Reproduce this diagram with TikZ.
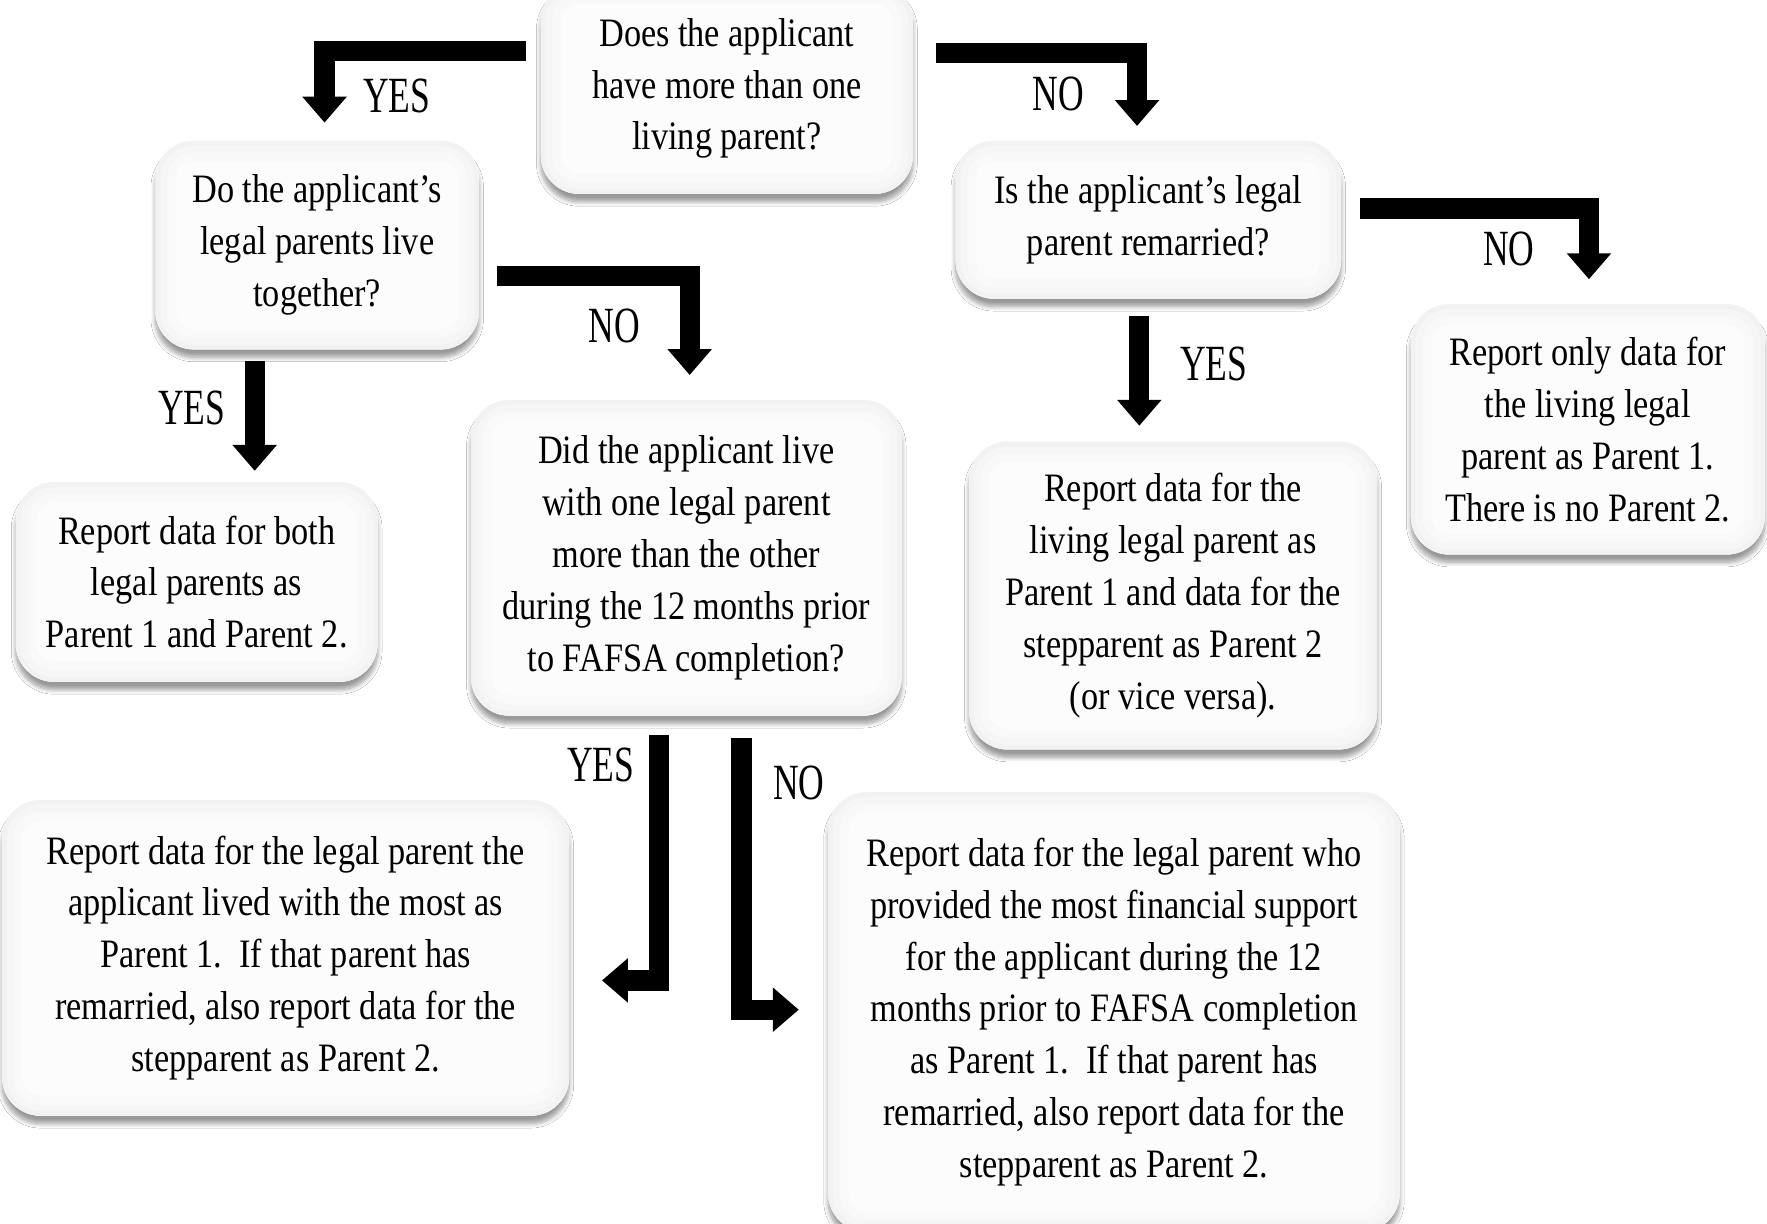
\documentclass[tikz,border=0pt]{standalone}
\usepackage{fontspec}
\setmainfont[FakeStretch=0.85]{Liberation Serif}
\newfontfamily\lblfont[FakeStretch=0.7]{Liberation Serif}
\usetikzlibrary{arrows.meta,calc,shadows.blur}
\begin{document}
\begin{tikzpicture}[x=1pt,y=-1pt,
  box/.style={rectangle, rounded corners=34pt, fill=gray!2, draw=none,
    blur shadow={shadow xshift=0pt, shadow yshift=-7pt, shadow blur steps=8,
      shadow blur radius=4pt, shadow opacity=40},
    path picture={
      \draw[rounded corners=34pt, gray!5, line width=36pt]
        (path picture bounding box.south west) rectangle (path picture bounding box.north east);
      \draw[rounded corners=34pt, gray!7, line width=20pt]
        (path picture bounding box.south west) rectangle (path picture bounding box.north east);
      \draw[rounded corners=34pt, gray!10, line width=8pt]
        (path picture bounding box.south west) rectangle (path picture bounding box.north east);
    },
    align=center, inner sep=0pt, font=\fontsize{35.8}{46}\selectfont},
  bigarrow/.style={line width=18pt, line join=miter, -{Triangle[width=38pt,length=23pt]}},
  lbl/.style={font=\lblfont\fontsize{45}{50}\selectfont, inner sep=0pt}]
\useasboundingbox[fill=white] (0,0) rectangle (1568,1086);

\node[box, minimum width=330pt, minimum height=187pt] (q1) at (645,78.5)
  {Does the applicant\\have more than one\\living parent?};
\node[box, minimum width=287pt, minimum height=185pt] (q2) at (281.5,217.5)
  {Do the applicant’s\\legal parents live\\together?};
\node[box, minimum width=342pt, minimum height=140pt] (q3) at (1019,195)
  {Is the applicant’s legal\\parent remarried?};
\node[box, minimum width=321pt, minimum height=177pt] (r4) at (174.5,516.5)
  {Report data for both\\legal parents as\\Parent 1 and Parent 2.};
\node[box, minimum width=382pt, minimum height=280pt] (q5) at (609,495)
  {Did the applicant live\\with one legal parent\\more than the other\\during the 12 months prior\\to FAFSA completion?};
\node[box, minimum width=362pt, minimum height=273pt] (r6) at (1041,528.5)
  {Report data for the\\living legal parent as\\Parent 1 and data for the\\stepparent as Parent 2\\(or vice versa).};
\node[box, minimum width=314pt, minimum height=222pt] (r7) at (1409,381)
  {Report only data for\\the living legal\\parent as Parent 1.\\There is no Parent 2.};
\node[box, minimum width=503pt, minimum height=280pt] (r8) at (253.5,850)
  {Report data for the legal parent the\\applicant lived with the most as\\Parent 1.\ \ If that parent has\\remarried, also report data for the\\stepparent as Parent 2.};
\node[box, minimum width=507pt, minimum height=390pt] (r9) at (988.5,898)
  {Report data for the legal parent who\\provided the most financial support\\for the applicant during the 12\\months prior to FAFSA completion\\as Parent 1.\ \ If that parent has\\remarried, also report data for the\\stepparent as Parent 2.};

% arrows
\draw[bigarrow] ($(q1.west)+(-13,-33.5)$) -| ($(q2.north)+(6.5,-16)$);
\draw[bigarrow] ($(q1.east)+(20,-31.5)$) -| ($(q3.north)+(-10,-13)$);
\draw[bigarrow] ($(q2.east)+(16,27.5)$) -| ($(q5.north)+(3,-22)$);
\draw[bigarrow] ($(q2.south)+(-55.5,10)$) -- ($(r4.north)+(51.5,-10)$);
\draw[bigarrow] ($(q3.south)+(-8,15)$) -- ($(r6.north)+(-30,-14)$);
\draw[bigarrow] ($(q3.east)+(17,-10)$) -| ($(r7.north)+(1,-22)$);
\draw[bigarrow] ($(q5.south)+(-24,17)$) |- ($(r8.east)+(29,20)$);
\draw[bigarrow] ($(q5.south)+(49,20)$) |- ($(r9.west)+(-26,-2)$);

% labels
\node[lbl] (l1) at (352,85) {YES};
\node[lbl] (l2) at (939,83) {NO};
\node[lbl] (l3) at (545,289) {NO};
\node[lbl] (l4) at (170,362) {YES};
\node[lbl] (l5) at (1077,323) {YES};
\node[lbl] (l6) at (1339,221) {NO};
\node[lbl] (l7) at (533,679) {YES};
\node[lbl] (l8) at (709,695) {NO};
\end{tikzpicture}
\end{document}
